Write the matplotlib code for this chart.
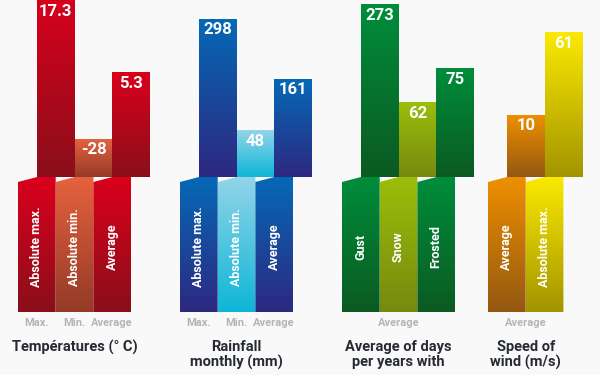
import numpy as np
import matplotlib
matplotlib.use("Agg")
import matplotlib.pyplot as plt
from matplotlib.colors import LinearSegmentedColormap
from matplotlib.patches import Polygon

# data
titles = ["Températures (° C)", "Rainfall\nmonthly (mm)",
          "Average of days\nper years with", "Speed of\nwind (m/s)"]
temp_values = [17.3, -28, 5.3]
rain_values = [298, 48, 161]
days_values = [273, 62, 75]
wind_values = [10, 61]
# visual heights of the back bars (px above the step)
temp_heights = [185, 38, 105]
rain_heights = [158, 47, 98]
days_heights = [173, 75, 109]
wind_heights = [62, 145]
temp_names = ["Absolute max.", "Absolute min.", "Average"]
rain_names = ["Absolute max.", "Absolute min.", "Average"]
days_names = ["Gust", "Snow", "Frosted"]
wind_names = ["Average", "Absolute max."]
temp_ticks = ["Max.", "Min.", "Average"]
rain_ticks = ["Max.", "Min.", "Average"]
days_ticks = ["Average"]
wind_ticks = ["Average"]

# colours (top, bottom) of the gradients
red = ("#da001c", "#8a0f1a")
orange_red = ("#e5623f", "#943a27")
blue = ("#0569b6", "#2d2880")
light_blue = ("#93d4e8", "#0db6d8")
green = ("#008d3b", "#0b5a22")
olive = ("#9cbe0a", "#76890f")
orange = ("#ee8f00", "#945812")
yellow = ("#fbe900", "#a29400")

groups = [
    (temp_values, temp_heights, temp_names, temp_ticks, [red, orange_red, red]),
    (rain_values, rain_heights, rain_names, rain_ticks, [blue, light_blue, blue]),
    (days_values, days_heights, days_names, days_ticks, [green, olive, green]),
    (wind_values, wind_heights, wind_names, wind_ticks, [orange, yellow]),
]

group_x = [18, 180, 342, 488]
bar_w = 37.7
dx, dy = 19, 5
front_h = 130
bg = "#f9f9f9"
font = "Roboto"

fig = plt.figure(figsize=(6, 3.75), dpi=100)
fig.patch.set_facecolor(bg)
ax = fig.add_axes([0, 0, 1, 1])
ax.set_facecolor(bg)
grad = np.linspace(0, 1, 256).reshape(-1, 1)


def fill_gradient(patch, colors, x0, x1, y0, y1, z):
    cmap = LinearSegmentedColormap.from_list("g", list(colors))
    im = ax.imshow(grad, cmap=cmap, extent=(x0, x1, y0, y1), origin="upper",
                   aspect="auto", zorder=z, interpolation="bilinear")
    im.set_clip_path(patch)


z = 1
for gi, (vals, heights, names, ticks, cols) in enumerate(groups):
    n = len(vals)
    xs = group_x[gi] + np.arange(n) * bar_w
    # back bars
    bars = ax.bar(xs + dx, heights, width=bar_w, bottom=0, align="edge",
                  color="none", linewidth=0, zorder=z)
    for b, h, v, c in zip(bars, heights, vals, cols):
        x0 = b.get_x()
        fill_gradient(b, c, x0, x0 + bar_w, 0, h, z)
        ax.text(x0 + bar_w / 2, min(h, 177) - 11, f"{v:g}", color="white",
                ha="center", va="center", fontsize=12, fontweight="bold",
                family=font, zorder=z + 1)
        z += 2
    # front bars
    for x0, name, c in zip(xs, names, cols):
        x1 = x0 + bar_w
        poly = Polygon([(x0, -dy - front_h), (x0, -dy), (x0 + dx, 0),
                        (x1, 0), (x1, -dy - front_h)], closed=True,
                       facecolor="none", linewidth=0, zorder=z)
        ax.add_patch(poly)
        fill_gradient(poly, c, x0, x1, -dy - front_h, 0, z)
        ax.text(x0 + bar_w / 2, -dy - front_h / 2, name, color="white",
                rotation=90, ha="center", va="center", fontsize=9,
                fontweight="bold", family=font, zorder=z + 1)
        z += 2
    # labels under the bars
    if len(ticks) == n:
        tx = xs + bar_w / 2
    else:
        tx = [group_x[gi] + n * bar_w / 2]
    for t, lab in zip(tx, ticks):
        ax.text(t, -146, lab, color="#b5b5b5", ha="center", va="center",
                fontsize=8, fontweight="bold", family=font)
    ax.text(group_x[gi] + n * bar_w / 2, -163, titles[gi], color="#262a33",
            ha="center", va="top", fontsize=10.5, fontweight="bold",
            family=font, linespacing=1.05)

ax.set_xlim(0, 600)
ax.set_ylim(-198, 177)
ax.axis("off")
fig.savefig("out.png", dpi=100, facecolor=bg)
